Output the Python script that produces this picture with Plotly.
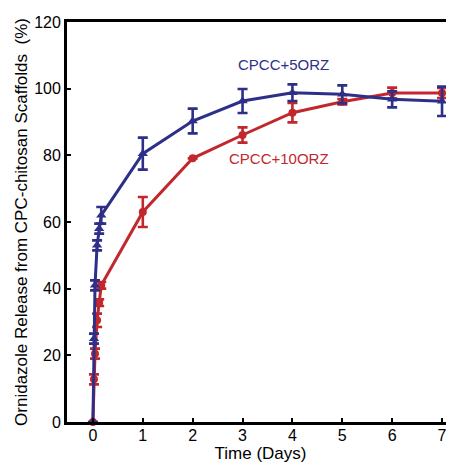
import plotly.graph_objects as go

# Time points (days)
t_blue = [0, 0.0208, 0.0417, 0.0833, 0.125, 0.1667, 1, 2, 3, 4, 5, 6, 7]
t_red = [0, 0.0208, 0.0417, 0.0833, 0.125, 0.1667, 1, 2, 3, 4, 5, 6, 7]

# CPCC+5ORZ release (%)
blue_vals = [0, 25, 41, 53, 58, 62, 80.5, 90.3, 96.3, 98.8, 98.3, 96.8, 96.2]
blue_err = [0, 1.5, 1.5, 1.5, 1.5, 2.5, 4.8, 3.7, 3.6, 2.5, 2.7, 2.4, 4.4]

# CPCC+10ORZ release (%)
red_vals = [0, 12.8, 20.5, 30.5, 35.8, 41, 63, 79.1, 86.1, 92.8, 96.1, 98.7, 98.7]
red_err = [0, 1.5, 1.5, 2, 1, 1, 4.5, 0, 2.3, 2.9, 0.8, 1.6, 1.5]

x_ticks = [0, 1, 2, 3, 4, 5, 6, 7]
y_ticks = [0, 20, 40, 60, 80, 100, 120]

BLUE = "#2e2f88"
RED = "#c1272d"

fig = go.Figure()
fig.add_trace(go.Scatter(
    x=t_red, y=red_vals, mode="lines+markers",
    line=dict(color=RED, width=3),
    marker=dict(symbol="circle", size=8, color=RED),
    error_y=dict(type="data", array=red_err, color=RED, thickness=2.6, width=5),
    cliponaxis=False, showlegend=False,
))
fig.add_trace(go.Scatter(
    x=t_blue, y=blue_vals, mode="lines+markers",
    line=dict(color=BLUE, width=3),
    marker=dict(symbol="triangle-up", size=9, color=BLUE),
    error_y=dict(type="data", array=blue_err, color=BLUE, thickness=2.6, width=5),
    cliponaxis=False, showlegend=False,
))

fig.add_annotation(x=3.83, y=107.4, text="CPCC+5ORZ", showarrow=False,
                   font=dict(color=BLUE, size=15, family="Liberation Sans, Arial"))
fig.add_annotation(x=3.74, y=79.2, text="CPCC+10ORZ", showarrow=False,
                   font=dict(color=RED, size=15, family="Liberation Sans, Arial"))

fig.update_layout(
    width=446, height=462,
    margin=dict(l=59, r=0, t=14, b=48, autoexpand=False),
    paper_bgcolor="white", plot_bgcolor="white",
    font=dict(family="Liberation Sans, Arial", size=16, color="black"),
    xaxis=dict(
        range=[-0.52, 7.24], tickvals=x_ticks, ticktext=[str(v) for v in x_ticks],
        showgrid=False, zeroline=False, showline=True, linecolor="black", linewidth=2.8,
        mirror=True, ticks="inside", ticklen=4, tickwidth=2.2, tickcolor="black",
        automargin=False, ticklabeloverflow="allow", ticklabelstandoff=-3,
        tickfont=dict(size=16),
        title=dict(text="Time (Days)", standoff=5, font=dict(size=17)),
    ),
    yaxis=dict(
        range=[0, 120], tickvals=y_ticks, ticktext=[str(v) for v in y_ticks],
        showgrid=False, zeroline=False, showline=True, linecolor="black", linewidth=2.8,
        ticks="inside", ticklen=4, tickwidth=2.2, tickcolor="black",
        automargin=False, ticklabeloverflow="allow",
        tickfont=dict(size=16),
        title=dict(text="Ornidazole Release from CPC-chitosan Scaffolds  (%)", standoff=3,
                   font=dict(size=17)),
    ),
)

fig.write_html("out.html")
